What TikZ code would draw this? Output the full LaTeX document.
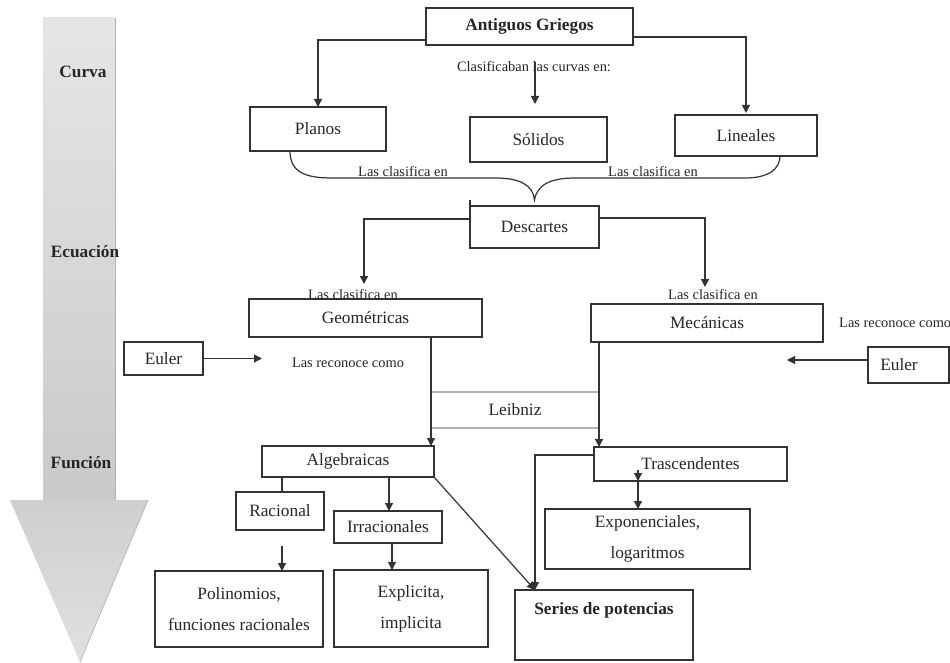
\documentclass[tikz,border=0pt]{standalone}
\usepackage{fontspec}
\setmainfont{Liberation Serif}
\usetikzlibrary{arrows.meta}
\definecolor{ln}{HTML}{333333}
\tikzset{
 box/.style={draw=ln, line width=1.3pt, inner sep=0pt, outer sep=0pt, font=\fontsize{17.3}{20}\selectfont, align=center, text=black!85},
 boxtwo/.style={box, font=\fontsize{17.3}{31}\selectfont},
 bbox/.style={box, font=\fontsize{17.3}{20}\selectfont\bfseries},
 small/.style={inner sep=0pt, font=\fontsize{14.4}{17}\selectfont, text=black!85},
 conn/.style={draw=ln, line width=1.2pt},
 arr/.style={conn, -{Triangle[length=8pt,width=8pt]}},
 lbl/.style={font=\fontsize{17.3}{20}\selectfont\bfseries, inner sep=0pt, text=black!85},
}
\begin{document}
\begin{tikzpicture}[x=1pt,y=-1pt]
\useasboundingbox (0,0) rectangle (950,663);
\fill[white] (0,0) rectangle (950,663);

% big arrow
\shade[top color=gray!20, bottom color=gray!42] (43,18) rectangle (115,500);
\draw[gray!60, line width=1pt] (115,18) -- (115,500);
\shade[top color=gray!38, bottom color=gray!24] (10,500) -- (148,500) -- (80,662) -- cycle;
\draw[gray!55, line width=0.8pt] (148,500) -- (80,662);
\node[lbl] (curva) at (83,72) {Curva};
\node[lbl] (ecua) at (85,252) {Ecuación};
\node[lbl] (func) at (81,463) {Función};

% boxes
\node[bbox, minimum width=207, minimum height=37] (ag) at (529.5,26.5) {Antiguos Griegos};
\node[box, minimum width=136, minimum height=44] (planos) at (318,129) {Planos};
\node[box, minimum width=137, minimum height=45] (solidos) at (538.5,139.5) {Sólidos};
\node[box, minimum width=142, minimum height=41] (lineales) at (746,135.5) {Lineales};
\node[box, minimum width=129, minimum height=42] (descartes) at (534.5,227) {Descartes};
\node[box, minimum width=233, minimum height=38] (geom) at (365.5,318) {Geométricas};
\node[box, minimum width=232, minimum height=38] (mec) at (707,323) {Mecánicas};
\node[box, minimum width=79, minimum height=33] (euler1) at (163.5,358.5) {Euler};
\node[box, minimum width=81, minimum height=36] (euler2) at (908.5,365) {Euler\hspace*{19pt}};
\node[box, draw=gray!60, minimum width=168, minimum height=36] (leibniz) at (515,410) {Leibniz};
\node[box, minimum width=172, minimum height=31] (alg) at (348,461.5) {Algebraicas};
\node[box, minimum width=193, minimum height=34] (trasc) at (690.5,464) {Trascendentes};
\node[box, minimum width=88, minimum height=38] (racional) at (280,511) {Racional};
\node[box, minimum width=108, minimum height=32] (irrac) at (388,527) {Irracionales};
\node[boxtwo, minimum width=168, minimum height=76] (polin) at (239,609) {Polinomios,\\funciones racionales};
\node[boxtwo, minimum width=154, minimum height=77] (explic) at (411,608.5) {Explicita,\\implicita};
\node[boxtwo, minimum width=205, minimum height=60] (expon) at (647.5,539) {Exponenciales,\\logaritmos};
\node[bbox, minimum width=178, text height=24pt, text depth=46pt] (series) at (604,625) {Series de potencias};

% small labels
\node[small] (clasif) at (534,67) {Clasificaban las curvas en:};
\node[small] (lc1) at (403,172) {Las clasifica en};
\node[small] (lc2) at (653,172) {Las clasifica en};
\node[small] (lc3) at (353,294) {Las clasifica en};
\node[small] (lc4) at (713,294) {Las clasifica en};
\node[small] (rc1) at (348,363) {Las reconoce como};
\node[small, anchor=west] (rc2) at (839,323) {Las reconoce como};

% connectors
\draw[arr] ([yshift=-13.5]ag.west) -| (planos.north);
\coordinate (st) at (535,104);
\draw[arr] (clasif.north -| st) -- (st);
\draw[arr] ([yshift=-10.5]ag.east) -| ([yshift=2]lineales.north);

% brace
\coordinate (bl) at ([xshift=-28]planos.south);
\coordinate (br) at ([xshift=34]lineales.south);
\coordinate (bt) at ([yshift=6]descartes.north);
\draw[conn] (bl) .. controls (290,172) and (305,178) .. (332,178) -- (495,178)
  .. controls (520,178) and (533,185) .. (bt)
  .. controls (537,185) and (550,178) .. (575,178) -- (745,178)
  .. controls (770,178) and (780,168) .. (br);
\draw[conn] (descartes.north west) -- ++(0,-6);

\coordinate (gt) at (364,284);
\coordinate (mt) at (705,287);
\draw[arr] ([yshift=8]descartes.west) -| (gt);
\draw[arr] ([yshift=9]descartes.east) -| (mt);

\coordinate (et1) at (262,358.5);
\draw[arr] (euler1.east) -- (et1);
\coordinate (et2) at (787,360);
\draw[arr] (euler2.west |- et2) -- (et2);

\draw[arr] (geom.south -| leibniz.west) -- (alg.north -| leibniz.west);
\draw[arr] (mec.south -| leibniz.east) -- (trasc.north -| leibniz.east);

\coordinate (sp) at ([xshift=20]series.north west);
\draw[arr] ([yshift=9]trasc.west) -| (sp);
\draw[arr] (alg.south east) -- (sp);

\draw[conn] ([xshift=2]racional.north |- alg.south) -- ([xshift=2]racional.north);
\draw[arr] ([xshift=1]irrac.north |- alg.south) -- ([xshift=1]irrac.north);
\draw[arr] ([xshift=2,yshift=-16]racional.south) -- ([xshift=2]racional.south |- polin.north);
\draw[arr] ([xshift=4]irrac.south) -- ([xshift=4]irrac.south |- explic.north);

\coordinate (tx) at (638,470);
\draw[arr] (tx) -- (tx |- trasc.south);
\draw[arr] (tx |- trasc.south) -- (tx |- expon.north);
\end{tikzpicture}
\end{document}
